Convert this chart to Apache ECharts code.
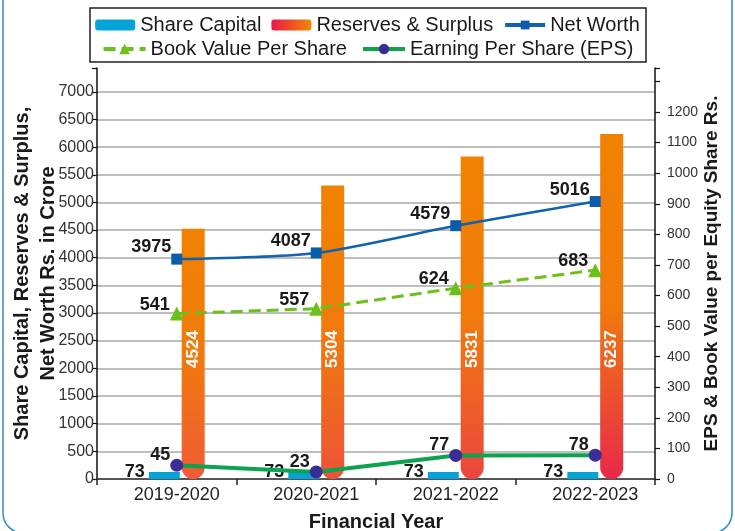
<!DOCTYPE html>
<html><head><meta charset="utf-8">
<script src="https://cdn.jsdelivr.net/npm/echarts@6/dist/echarts.min.js"></script>
<style>html,body{margin:0;padding:0;background:#fff}#c{width:735px;height:531px}</style>
</head><body><div id="c"></div>
<script>
// ---- data ----
const categories = ['2019-2020', '2020-2021', '2021-2022', '2022-2023'];
const shareCapital = [73, 73, 73, 73];
const reserves = [4524, 5304, 5831, 6237];
const netWorth = [3975, 4087, 4579, 5016];
const bookValue = [541, 557, 624, 683];
const eps = [45, 23, 77, 78];
const leftAxisRange = { min: 0, max: 7430, interval: 500, lastLabel: 7000 };
const rightAxisRange = { min: 0, max: 1344, interval: 100, lastLabel: 1200 };
const seriesNames = ['Share Capital', 'Reserves & Surplus', 'Net Worth', 'Book Value Per Share', 'Earning Per Share (EPS)'];

// ---- styles ----
const FONT = '"Liberation Sans", Arial, sans-serif';
const reserveBottoms = ['#EF5B36', '#EE5238', '#EC4640', '#E8294B'];
const G = echarts.graphic;

const reserveData = reserves.map((v, i) => ({
  value: v,
  itemStyle: {
    color: new G.LinearGradient(0, 0, 0, 1, [
      { offset: 0, color: '#F18200' },
      { offset: 0.5, color: '#F17A0C' },
      { offset: 1, color: reserveBottoms[i] }
    ])
  }
}));

const chart = echarts.init(document.getElementById('c'), null, { renderer: 'canvas' });
const dataLabel = { show: true, color: '#1a1a1a', fontSize: 18, fontWeight: 'bold', fontFamily: FONT };

// grid 0 carries the visible axes frame; grid 1 (same size, shifted right) carries the marks
const GRID0 = { left: 97, right: 80, top: 68, bottom: 52, containLabel: false, outerBoundsMode: 'none' };
const GRID1 = { left: 107, right: 70, top: 68, bottom: 52, containLabel: false, outerBoundsMode: 'none' };

chart.setOption({
  backgroundColor: '#fff',
  animation: false,
  textStyle: { fontFamily: FONT },
  graphic: [
    { type: 'rect', shape: { x: 3, y: -40, width: 729, height: 573, r: 20 }, style: { fill: 'none', stroke: '#2E8FC6', lineWidth: 1.5 }, silent: true },
    { type: 'rect', shape: { x: 90, y: 8, width: 556, height: 54 }, style: { fill: 'none', stroke: '#222', lineWidth: 1.5 }, silent: true }
  ],
  legend: [
    { top: 10, left: 'center', data: seriesNames.slice(0, 3), itemWidth: 40, itemHeight: 11, itemGap: 10,
      lineStyle: { width: 4 },
      textStyle: { fontSize: 20, color: '#1a1a1a', fontFamily: FONT } },
    { top: 34, left: 'center', data: seriesNames.slice(3), itemWidth: 42, itemHeight: 13, itemGap: 14,
      lineStyle: { width: 4 },
      textStyle: { fontSize: 20, color: '#1a1a1a', fontFamily: FONT } }
  ],
  grid: [GRID0, GRID1],
  xAxis: [
    {
      gridIndex: 0, type: 'category', data: categories, boundaryGap: true,
      name: 'Financial Year', nameLocation: 'middle', nameGap: 33, nameMoveOverlap: false,
      nameTextStyle: { fontSize: 20, fontWeight: 'bold', color: '#1a1a1a', fontFamily: FONT },
      axisLine: { lineStyle: { color: '#333', width: 1.5 } },
      axisTick: { show: true, length: 6, lineStyle: { color: '#222', width: 1.5 } },
      axisLabel: { show: false }
    },
    {
      gridIndex: 1, type: 'category', data: categories, boundaryGap: true,
      axisLine: { show: false }, axisTick: { show: false },
      axisLabel: { fontSize: 18, color: '#222', margin: 7, fontFamily: FONT }
    }
  ],
  yAxis: [
    {
      gridIndex: 0, type: 'value', min: leftAxisRange.min, max: leftAxisRange.max, interval: leftAxisRange.interval,
      name: 'Share Capital, Reserves & Surplus,\nNet Worth Rs. in Crore', nameLocation: 'middle', nameGap: 36,
      nameMoveOverlap: false,
      nameTextStyle: { fontSize: 20, fontWeight: 'bold', color: '#1a1a1a', lineHeight: 26, fontFamily: FONT },
      axisLine: { show: true, lineStyle: { color: '#111', width: 1.5 } },
      axisTick: { show: true, length: 5, lineStyle: { color: '#111', width: 1.2 } },
      axisLabel: { fontSize: 16, color: '#333', margin: 3, fontFamily: FONT,
        formatter: v => (v > leftAxisRange.lastLabel ? '' : String(v)) },
      splitLine: { show: true, showMaxLine: false, lineStyle: { color: '#A8A8A8', width: 1.6 } }
    },
    {
      gridIndex: 0, type: 'value', min: rightAxisRange.min, max: rightAxisRange.max, interval: rightAxisRange.interval,
      name: 'EPS & Book Value per Equity Share Rs.', nameLocation: 'middle', nameGap: 47,
      nameMoveOverlap: false,
      nameTextStyle: { fontSize: 19, fontWeight: 'bold', color: '#1a1a1a', fontFamily: FONT },
      axisLine: { show: true, lineStyle: { color: '#111', width: 1.5 } },
      axisTick: { show: true, length: 5, lineStyle: { color: '#111', width: 1.2 } },
      axisLabel: { fontSize: 14, color: '#333', margin: 12, fontFamily: FONT,
        formatter: v => (v > rightAxisRange.lastLabel ? '' : String(v)) },
      splitLine: { show: false }
    },
    {
      gridIndex: 1, type: 'value', min: leftAxisRange.min, max: leftAxisRange.max, show: false
    },
    {
      gridIndex: 1, type: 'value', min: rightAxisRange.min, max: rightAxisRange.max, show: false
    }
  ],
  series: [
    {
      name: seriesNames[0], type: 'bar', xAxisIndex: 1, yAxisIndex: 2, data: shareCapital,
      barWidth: 31, barGap: '6%', barMinHeight: 7,
      itemStyle: { color: '#06A3D8' },
      label: Object.assign({}, dataLabel, { position: 'left', distance: 4, offset: [0, -3] })
    },
    {
      name: seriesNames[1], type: 'bar', xAxisIndex: 1, yAxisIndex: 2, data: reserveData,
      barWidth: 23,
      itemStyle: {
        color: new G.LinearGradient(0, 0, 1, 0, [{ offset: 0, color: '#E8174B' }, { offset: 1, color: '#F28A00' }]),
        borderRadius: [0, 0, 12, 12]
      },
      label: { show: true, position: 'insideBottom', distance: 111, rotate: 90, align: 'left', verticalAlign: 'middle',
        color: '#fff', fontSize: 17, fontWeight: 'bold', fontFamily: FONT }
    },
    {
      name: seriesNames[2], type: 'line', xAxisIndex: 1, yAxisIndex: 2, data: netWorth, smooth: 0.25,
      symbol: 'rect', symbolSize: 11,
      lineStyle: { color: '#1262AD', width: 2.5 },
      itemStyle: { color: '#0B5DAA' },
      label: Object.assign({}, dataLabel, { position: 'left', distance: 0, offset: [0, -12] }),
      z: 5
    },
    {
      name: seriesNames[3], type: 'line', xAxisIndex: 1, yAxisIndex: 3, data: bookValue,
      symbol: 'triangle', symbolSize: 14,
      lineStyle: { color: '#6CC01C', width: 3, type: [12, 6] },
      itemStyle: { color: '#6CC01C' },
      label: Object.assign({}, dataLabel, { position: 'left', distance: 0, offset: [0, -9] }),
      z: 5
    },
    {
      name: seriesNames[4], type: 'line', xAxisIndex: 1, yAxisIndex: 3, data: eps,
      symbol: 'circle', symbolSize: 13,
      lineStyle: { color: '#0DA24E', width: 4 },
      itemStyle: { color: '#3B2D96' },
      label: Object.assign({}, dataLabel, { position: 'left', distance: 0, offset: [0, -10] }),
      z: 6
    }
  ]
});
</script></body></html>
